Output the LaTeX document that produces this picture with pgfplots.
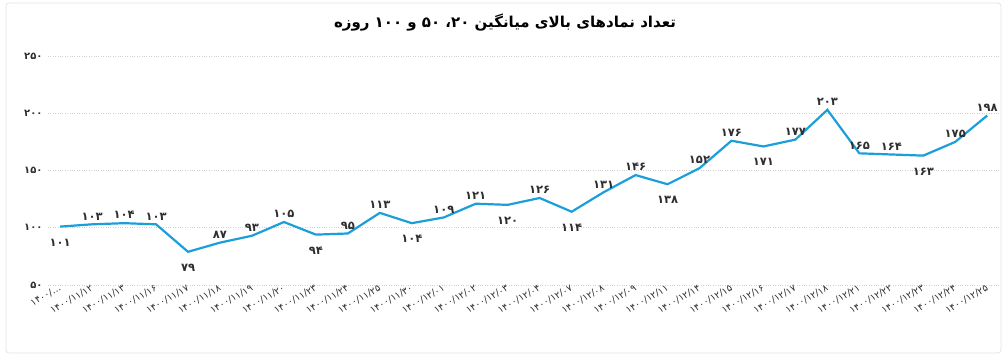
\documentclass[border=0pt]{standalone}
\usepackage{fontspec}
\usepackage{pgfplots}
\pgfplotsset{compat=1.18}
\TeXXeTstate=1
\newfontfamily\arabicfont[Script=Arabic]{DejaVu Sans}
\newfontfamily\digitfont{DejaVu Sans}
\setmainfont{DejaVu Sans}
\definecolor{linec}{HTML}{1A9FDB}
\definecolor{gridc}{HTML}{D0D0D0}
\definecolor{txt}{HTML}{2E2E2E}
\definecolor{framec}{HTML}{E4E4E4}
\begin{document}
\begin{tikzpicture}
\useasboundingbox (-48pt,-75pt) rectangle (957pt,285pt);
\draw[framec, line width=0.8pt, rounded corners=3pt] (-42pt,-68pt) rectangle (953pt,282pt);
\begin{axis}[
  at={(0pt,0pt)}, anchor=south west,
  scale only axis, width=952pt, height=229pt,
  xmin=-0.38, xmax=29.4, ymin=50, ymax=250,
  axis line style={draw=none},
  tick style={draw=none},
  ytick={50,100,150,200,250},
  yticklabels={۵۰,۱۰۰,۱۵۰,۲۰۰,۲۵۰},
  yticklabel style={font=\digitfont\bfseries\fontsize{10}{12}\selectfont, text=txt, xshift=-2pt},
  xtick={0,...,29},
  xticklabels={۱۴۰۰/…,۱۴۰۰/۱۱/۱۲,۱۴۰۰/۱۱/۱۳,۱۴۰۰/۱۱/۱۶,۱۴۰۰/۱۱/۱۷,۱۴۰۰/۱۱/۱۸,۱۴۰۰/۱۱/۱۹,۱۴۰۰/۱۱/۲۰,۱۴۰۰/۱۱/۲۳,۱۴۰۰/۱۱/۲۴,۱۴۰۰/۱۱/۲۵,۱۴۰۰/۱۱/۳۰,۱۴۰۰/۱۲/۰۱,۱۴۰۰/۱۲/۰۲,۱۴۰۰/۱۲/۰۳,۱۴۰۰/۱۲/۰۴,۱۴۰۰/۱۲/۰۷,۱۴۰۰/۱۲/۰۸,۱۴۰۰/۱۲/۰۹,۱۴۰۰/۱۲/۱۱,۱۴۰۰/۱۲/۱۴,۱۴۰۰/۱۲/۱۵,۱۴۰۰/۱۲/۱۶,۱۴۰۰/۱۲/۱۷,۱۴۰۰/۱۲/۱۸,۱۴۰۰/۱۲/۲۱,۱۴۰۰/۱۲/۲۲,۱۴۰۰/۱۲/۲۳,۱۴۰۰/۱۲/۲۴,۱۴۰۰/۱۲/۲۵},
  xticklabel style={font=\digitfont\fontsize{9.5}{11}\selectfont, text=txt, rotate=30, anchor=east, inner sep=1pt, yshift=-2pt},
  ymajorgrids,
  grid style={gridc, dotted, line width=0.8pt},
  clip=false,
  lbl/.style 2 args={draw=none, mark=none, nodes near coords, point meta=explicit symbolic,
    every node near coord/.append style={anchor=#1, yshift=#2, font=\digitfont\bfseries\fontsize{11.5}{13}\selectfont, text=txt, inner sep=3pt}},
]
\addplot[linec, line width=2.2pt, mark=none] coordinates {
(0,101) (1,103) (2,104) (3,103) (4,79) (5,87) (6,93) (7,105) (8,94) (9,95)
(10,113) (11,104) (12,109) (13,121) (14,120) (15,126) (16,114) (17,131) (18,146) (19,138)
(20,152) (21,176) (22,171) (23,177) (24,203) (25,165) (26,164) (27,163) (28,175) (29,198)};
\addplot[lbl={south}{1pt}] coordinates {
(1,103) [۱۰۳] (2,104) [۱۰۴] (3,103) [۱۰۳] (5,87) [۸۷] (6,93) [۹۳] (7,105) [۱۰۵]
(9,95) [۹۵] (10,113) [۱۱۳] (12,109) [۱۰۹] (13,121) [۱۲۱] (15,126) [۱۲۶]
(17,131) [۱۳۱] (18,146) [۱۴۶] (20,152) [۱۵۲] (21,176) [۱۷۶] (23,177) [۱۷۷]
(24,203) [۲۰۳] (25,165) [۱۶۵] (26,164) [۱۶۴] (28,175) [۱۷۵] (29,198) [۱۹۸]};
\addplot[lbl={north}{-9pt}] coordinates {
(0,101) [۱۰۱] (4,79) [۷۹] (8,94) [۹۴] (11,104) [۱۰۴] (14,120) [۱۲۰]
(16,114) [۱۱۴] (19,138) [۱۳۸] (22,171) [۱۷۱] (27,163) [۱۶۳]};
\end{axis}
\node[font=\arabicfont\bfseries\fontsize{15}{18}\selectfont, text=black] at (457pt,262pt) {\beginR تعداد نمادهای بالای میانگین ۲۰، ۵۰ و ۱۰۰ روزه\endR};
\end{tikzpicture}
\end{document}
